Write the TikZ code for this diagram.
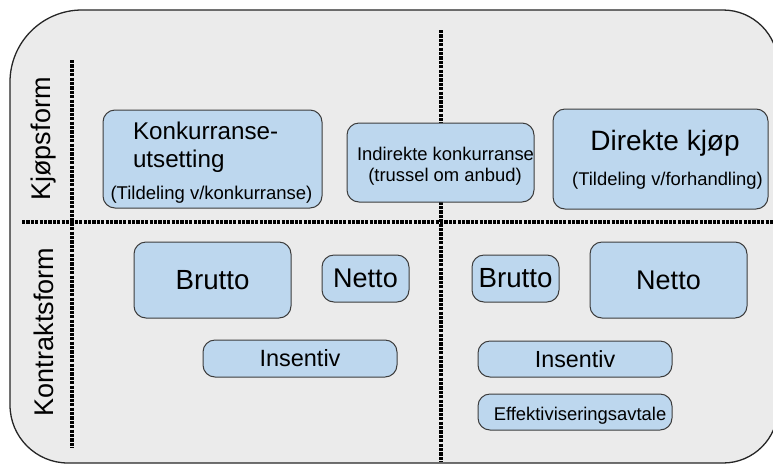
\documentclass[tikz,border=0pt]{standalone}
\usepackage{fontspec}
\setmainfont{Liberation Sans}
\definecolor{outerfill}{HTML}{EBEBEB}
\definecolor{boxfill}{HTML}{BDD7EE}
\definecolor{boxline}{HTML}{3C3C3C}
\tikzset{
  box/.style={draw=boxline, fill=boxfill, line width=1pt, rounded corners=12pt, inner sep=0pt, outer sep=0pt},
  dotline/.style={line width=3.4pt, dash pattern=on 3.2pt off 1.2pt, black},
  txt/.style={inner sep=0pt, outer sep=0pt},
}
\newcommand{\fs}[1]{\fontsize{#1}{#1}\selectfont}
\begin{document}
\begin{tikzpicture}[x=1pt,y=1pt]
\useasboundingbox (0,0) rectangle (773,-464);
\clip (0,0) rectangle (773,-464);
% outer frame
\draw[fill=outerfill, draw=black!85, line width=1.3pt]
  (82,-10) -- (723,-10) arc[start angle=90,end angle=0,radius=55]
  -- (778,-408) arc[start angle=0,end angle=-90,radius=55]
  -- (68,-463) arc[start angle=-90,end angle=-180,radius=58]
  -- (10,-82) arc[start angle=180,end angle=90,radius=72] -- cycle;
% dotted separators
\coordinate (hL) at (22,-222);
\coordinate (hR) at (775,-222);
\coordinate (vLt) at (72,-60);
\coordinate (vLb) at (72,-448);
\coordinate (vMt) at (441,-30);
\coordinate (vMb) at (441,-462);
\draw[dotline] (hL) -- (hR);
\draw[dotline] (vLt) -- (vLb);
\draw[dotline] (vMt) -- (vMb);
% axis labels
\node[txt, rotate=90] (kjop) at (44,-139) {\fs{27}Kjøpsform};
\node[txt, rotate=90] (kontr) at (44,-332) {\fs{27}Kontraktsform};
% top row
\node[box, minimum width=219pt, minimum height=98pt] (konk) at (212.5,-159) {};
\node[txt, anchor=base west] (konk1) at (133,-139) {\fs{24.2}Konkurranse-};
\node[txt, anchor=base west] (konk2) at (133,-167) {\fs{24.2}utsetting};
\node[txt, anchor=base] (konk3) at (211.5,-199) {\fs{18.5}(Tildeling v/konkurranse)};
\node[box, minimum width=187pt, minimum height=79pt] (ind) at (440.5,-162.5) {};
\node[txt, anchor=base] (ind1) at (445.5,-160) {\fs{18.4}Indirekte konkurranse};
\node[txt, anchor=base] (ind2) at (445,-181) {\fs{18.4}(trussel om anbud)};
\node[box, minimum width=215pt, minimum height=100pt] (dir) at (660.5,-159) {};
\node[txt, anchor=base] (dir1) at (665,-150) {\fs{28}Direkte kjøp};
\node[txt, anchor=base] (dir2) at (667.5,-185) {\fs{18.4}(Tildeling v/forhandling)};
% bottom row left
\node[box, minimum width=157pt, minimum height=76pt] (b1) at (212.5,-280) {\fs{27.7}Brutto};
\node[box, minimum width=87pt, minimum height=47pt] (n1) at (365.5,-278.5) {\fs{27}Netto};
\node[box, minimum width=194pt, minimum height=37pt] (i1) at (300,-358.5) {\fs{23.5}Insentiv};
% bottom row right
\node[box, minimum width=87pt, minimum height=47pt] (b2) at (515.5,-278.5) {\fs{27.7}Brutto};
\node[box, minimum width=157pt, minimum height=76pt] (n2) at (668.5,-280) {\fs{27}Netto};
\node[box, minimum width=194pt, minimum height=36pt] (i2) at (575,-359) {\fs{23.3}Insentiv};
\node[box, minimum width=194pt, minimum height=36pt] (e2) at (575,-412) {};
\node[txt, anchor=base] (e2t) at (580,-420) {\fs{18.4}Effektiviseringsavtale};
\end{tikzpicture}
\end{document}
